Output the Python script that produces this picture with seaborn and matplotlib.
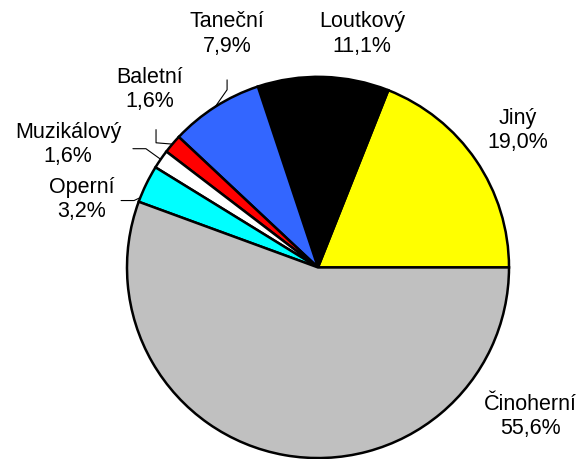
import numpy as np
import matplotlib
matplotlib.use("Agg")
import matplotlib.pyplot as plt
import seaborn as sns

# data
categories = ["Jiný", "Loutkový", "Taneční", "Baletní", "Muzikálový", "Operní", "Činoherní"]
shares = [19.0, 11.1, 7.9, 1.6, 1.6, 3.2, 55.6]
colors = ["#FFFF00", "#000000", "#3366FF", "#FF0000", "#FFFFFF", "#00FFFF", "#C0C0C0"]

sns.set_theme(style="white")
plt.rcParams["font.family"] = ["Liberation Sans", "DejaVu Sans"]

fig = plt.figure(figsize=(5.84, 4.59), dpi=100)
ax = fig.add_axes([0, 0, 1, 1])

ax.pie(shares, colors=colors, startangle=0, counterclock=True, radius=1.0,
       wedgeprops=dict(edgecolor="black", linewidth=1.8))

# label positions (data units, pie radius = 1)
label_pos = {
    "Jiný": (1.047, 0.717),
    "Loutkový": (0.230, 1.225),
    "Taneční": (-0.476, 1.225),
    "Baletní": (-0.880, 0.932),
    "Muzikálový": (-1.309, 0.644),
    "Operní": (-1.236, 0.356),
    "Činoherní": (1.110, -0.780),
}
for cat, val in zip(categories, shares):
    x, y = label_pos[cat]
    txt = f"{cat}\n{val:.1f}%".replace(".", ",")
    ax.text(x, y, txt, ha="center", va="center", fontsize=15.5,
            linespacing=1.2, color="black")

# leader lines: start point, elbow, then edge of the wedge
edges = np.cumsum([0] + shares) / 100 * 360
mid = {c: np.deg2rad((edges[i] + edges[i + 1]) / 2) for i, c in enumerate(categories)}
leaders = {
    "Taneční": [(-0.476, 0.984), (-0.476, 0.932)],
    "Baletní": [(-0.848, 0.723), (-0.848, 0.654)],
    "Muzikálový": [(-0.969, 0.623), (-0.901, 0.623)],
    "Operní": [(-1.031, 0.351), (-0.963, 0.351)],
}
angle_override = {"Operní": np.deg2rad(158.5)}
for cat, pts in leaders.items():
    a = angle_override.get(cat, mid[cat])
    xs = [p[0] for p in pts] + [np.cos(a)]
    ys = [p[1] for p in pts] + [np.sin(a)]
    ax.plot(xs, ys, color="black", linewidth=0.8)

ax.set_xlim(-318 / 191, (584 - 318) / 191)
ax.set_ylim(-1.005, 268 / 191)
ax.set_aspect("auto")
ax.axis("off")

fig.savefig("out.png", dpi=100)
